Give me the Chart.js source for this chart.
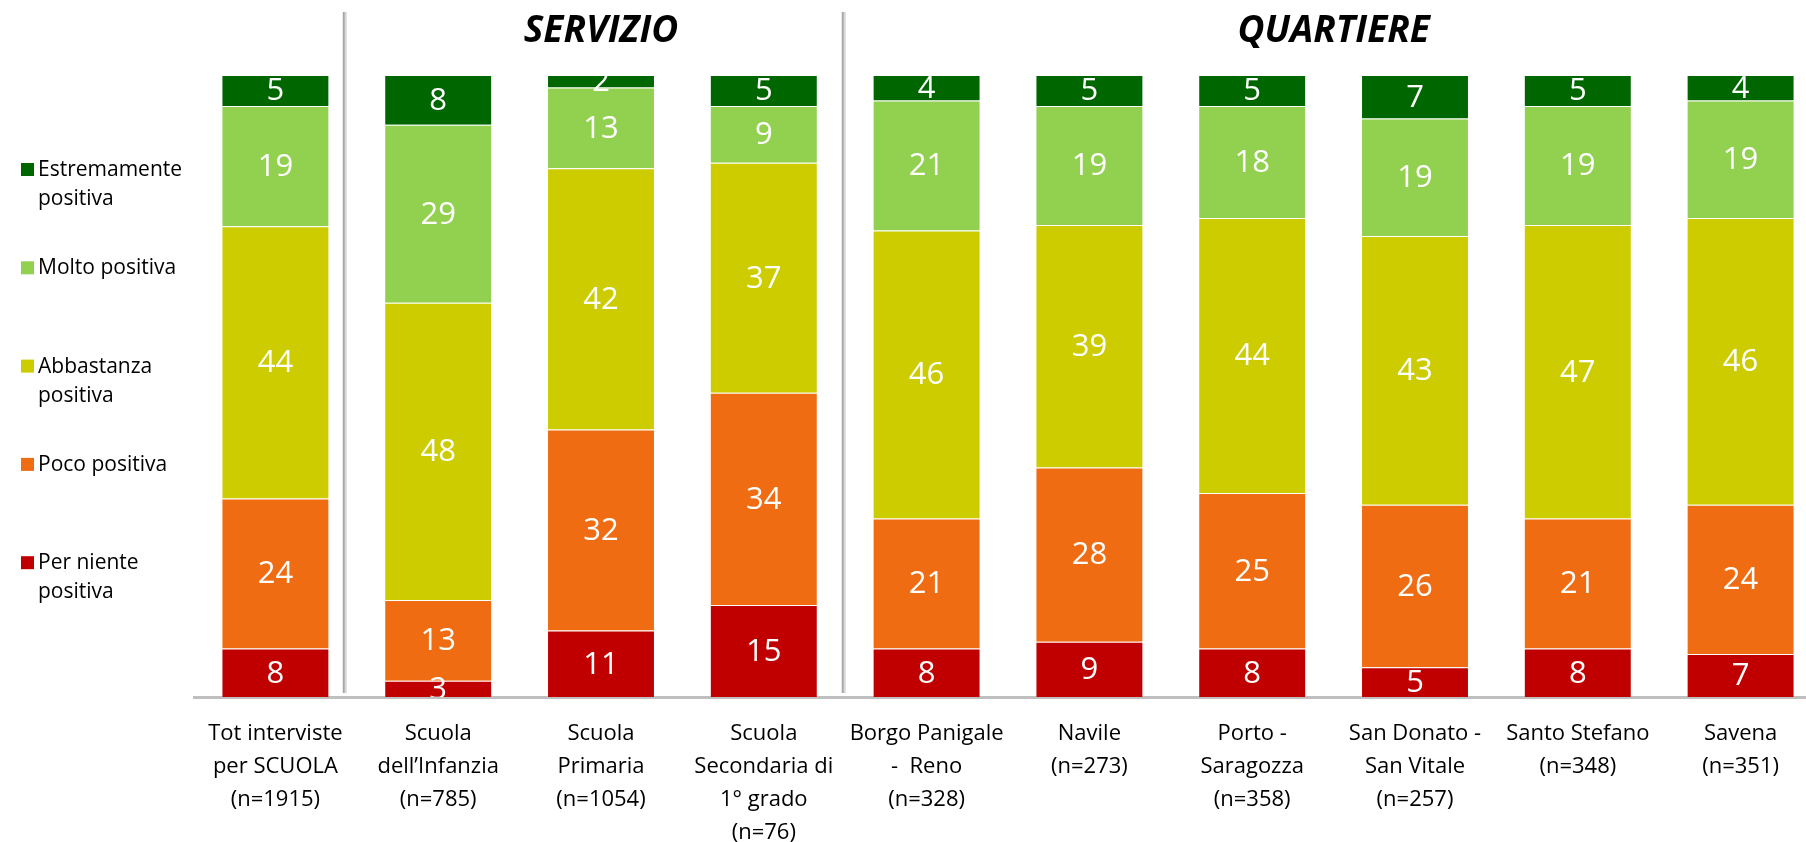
<!DOCTYPE html>
<html>
<head>
<meta charset="utf-8">
<script src="https://cdn.jsdelivr.net/npm/chart.js@4.4.1/dist/chart.umd.min.js"></script>
<style>
  html, body { margin: 0; padding: 0; background: #fff; overflow: hidden; }
  #wrap { width: 1830px; height: 842px; }
</style>
</head>
<body>
<div id="wrap"><canvas id="chart" width="1830" height="842"></canvas></div>
<script>
// categories (x axis labels, one array of lines each)
var categories = [
  ["Tot interviste", "per SCUOLA", "(n=1915)"],
  ["Scuola", "dell\u2019Infanzia", "(n=785)"],
  ["Scuola", "Primaria", "(n=1054)"],
  ["Scuola", "Secondaria di", "1\u00b0 grado", "(n=76)"],
  ["Borgo Panigale", "-  Reno", "(n=328)"],
  ["Navile", "(n=273)"],
  ["Porto -", "Saragozza", "(n=358)"],
  ["San Donato -", "San Vitale", "(n=257)"],
  ["Santo Stefano", "(n=348)"],
  ["Savena", "(n=351)"]
];

// percentages, bottom to top
var perNiente    = [7.8, 2.6, 10.7, 14.8, 7.8, 8.9, 7.8, 4.8, 7.8, 6.9];
var poco         = [24.1, 13.0, 32.3, 34.1, 20.9, 28.0, 25.0, 26.1, 20.9, 24.0];
var abbastanza   = [43.8, 47.8, 42.0, 37.0, 46.3, 39.0, 44.2, 43.2, 47.2, 46.1];
var molto        = [19.3, 28.6, 13.0, 9.1, 20.9, 19.1, 18.0, 18.9, 19.1, 18.9];
var estremamente = [5.0, 8.0, 2.0, 5.0, 4.1, 5.0, 5.0, 7.0, 5.0, 4.1];

var seriesNames = [
  ["Per niente", "positiva"],
  ["Poco positiva"],
  ["Abbastanza", "positiva"],
  ["Molto positiva"],
  ["Estremamente", "positiva"]
];
var seriesColors = ["#C00000", "#F06C12", "#CCCC00", "#92D050", "#006600"];

// group headings
var groups = [
  { title: "SERVIZIO", from: 1, to: 3 },
  { title: "QUARTIERE", from: 4, to: 9 }
];

var FONT = "'Open Sans', sans-serif";

var extras = {
  id: "extras",
  afterDatasetsDraw: function (chart) {
    var ctx = chart.ctx;
    var area = chart.chartArea;

    // value labels, centered and clipped to the plot area
    ctx.save();
    ctx.beginPath();
    ctx.rect(area.left, area.top, area.right - area.left, area.bottom - area.top);
    ctx.clip();
    ctx.fillStyle = "#fff";
    ctx.font = "31px " + FONT;
    ctx.textAlign = "center";
    ctx.textBaseline = "middle";
    chart.data.datasets.forEach(function (ds, i) {
      chart.getDatasetMeta(i).data.forEach(function (bar, j) {
        ctx.fillText(Math.round(ds.data[j]), bar.x, (bar.y + bar.base) / 2 + 1);
      });
    });
    ctx.restore();
  },
  afterDraw: function (chart) {
    var ctx = chart.ctx;
    var area = chart.chartArea;
    var xs = chart.scales.x;
    var step = xs.getPixelForValue(1) - xs.getPixelForValue(0);

    // separators
    var seps = [xs.getPixelForValue(0) + step * 0.42, xs.getPixelForValue(3) + step * 0.485];
    ctx.save();
    seps.forEach(function (x) {
      ctx.strokeStyle = "#D9D9D9";
      ctx.lineWidth = 2;
      ctx.beginPath(); ctx.moveTo(x + 2, 12); ctx.lineTo(x + 2, area.bottom - 4); ctx.stroke();
      ctx.strokeStyle = "#A6A6A6";
      ctx.beginPath(); ctx.moveTo(x, 12); ctx.lineTo(x, area.bottom - 4); ctx.stroke();
    });

    // group titles
    ctx.fillStyle = "#000";
    ctx.font = "italic bold 37px " + FONT;
    ctx.textAlign = "center";
    ctx.textBaseline = "middle";
    groups.forEach(function (g) {
      var cx = (xs.getPixelForValue(g.from) + xs.getPixelForValue(g.to)) / 2;
      ctx.fillText(g.title, cx, 31);
    });

    // legend, top series first
    ctx.font = "21px " + FONT;
    ctx.textAlign = "left";
    for (var k = 0; k < seriesNames.length; k++) {
      var idx = seriesNames.length - 1 - k;
      var y = 170 + k * 98.3;
      ctx.fillStyle = seriesColors[idx];
      ctx.fillRect(21, y - 7, 13, 13);
      ctx.fillStyle = "#000";
      seriesNames[idx].forEach(function (line, n) {
        ctx.fillText(line, 38, y + n * 29);
      });
    }
    ctx.restore();
  }
};

var datasets = [perNiente, poco, abbastanza, molto, estremamente].map(function (values, i) {
  return {
    label: seriesNames[i].join(" "),
    data: values,
    backgroundColor: seriesColors[i],
    borderColor: "rgba(255,255,255,0.15)",
    borderWidth: 1,
    barPercentage: 0.663,
    categoryPercentage: 1.0
  };
});

new Chart(document.getElementById("chart").getContext("2d"), {
  type: "bar",
  data: { labels: categories, datasets: datasets },
  options: {
    responsive: false,
    animation: false,
    layout: { padding: { left: 194, right: 8, top: 75, bottom: 0 } },
    plugins: { legend: { display: false }, tooltip: { enabled: false } },
    scales: {
      x: {
        stacked: true,
        grid: { display: false, drawTicks: false },
        border: { display: true, color: "#BFBFBF", width: 3 },
        ticks: {
          autoSkip: false,
          maxRotation: 0,
          padding: 20,
          color: "#000",
          font: { family: FONT, size: 22, lineHeight: "33px" }
        },
        afterFit: function (scale) { scale.height = 145; }
      },
      y: {
        stacked: true,
        display: false,
        min: 0,
        max: 100
      }
    }
  },
  plugins: [extras]
});
</script>
</body>
</html>
